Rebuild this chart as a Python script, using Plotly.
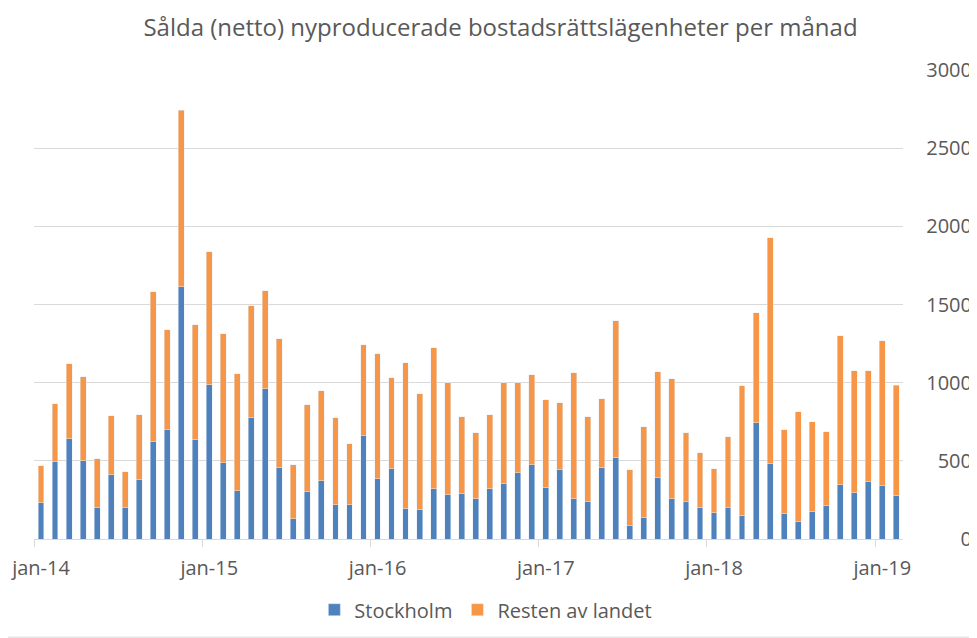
import plotly.graph_objects as go

months = [f"{m}-{y}" for y in ["14", "15", "16", "17", "18"] for m in
          ["jan", "feb", "mar", "apr", "maj", "jun", "jul", "aug", "sep", "okt", "nov", "dec"]] + ["jan-19", "feb-19"]

stockholm = [232, 494, 641, 500, 200, 411, 200, 379, 622, 699, 1614, 635,
             987, 488, 309, 776, 961, 456, 130, 302, 373, 220, 220, 660,
             385, 449, 193, 187, 320, 283, 290, 258, 320, 352, 425, 475,
             328, 443, 258, 239, 456, 520, 85, 136, 392, 258, 239, 200,
             168, 200, 149, 744, 482, 162, 111, 175, 213, 347, 296, 366,
             341, 277]

resten = [238, 371, 480, 538, 313, 377, 230, 416, 959, 640, 1130, 736,
          850, 825, 748, 716, 627, 825, 345, 557, 575, 556, 389, 583,
          801, 582, 934, 742, 904, 717, 492, 422, 475, 648, 575, 576,
          563, 429, 806, 543, 441, 876, 358, 582, 678, 767, 441, 352,
          282, 454, 831, 703, 1445, 537, 703, 575, 473, 953, 781, 711,
          928, 708]

tick_labels = ["jan-14", "jan-15", "jan-16", "jan-17", "jan-18", "jan-19"]
y_ticks = [0, 500, 1000, 1500, 2000, 2500, 3000]

x = list(range(len(months)))
tick_pos = [months.index(t) for t in tick_labels]

FONT = "Open Sans, Noto Sans, sans-serif"
TXT = "#595959"
GRID = "#d9d9d9"

fig = go.Figure()
fig.add_trace(go.Bar(x=x, y=stockholm, name="Stockholm", marker_color="#4f81bd",
                     customdata=months, hovertemplate="%{customdata}: %{y}<extra>Stockholm</extra>"))
fig.add_trace(go.Bar(x=x, y=resten, name="Resten av landet", marker_color="#f79646",
                     customdata=months, hovertemplate="%{customdata}: %{y}<extra>Resten av landet</extra>"))

# page is drawn with an 8px body margin; work in page pixels and offset
OFF = 8
PW, PH = 977, 638
W, H = PW - OFF, PH - OFF
plot_l, plot_r, plot_t, plot_b = 34.3, 974, 70.3, 539.3   # page px
L = plot_l - OFF
T = plot_t - OFF
R = W - (plot_r - OFF)
B = H - (plot_b - OFF)
pw = plot_r - plot_l
ph = plot_b - plot_t


def px(xp):
    return (xp - plot_l) / pw


def py(yp):
    return (plot_b - yp) / ph


fig.update_layout(
    width=W, height=H,
    barmode="stack", bargap=0.58,
    plot_bgcolor="white", paper_bgcolor="white",
    margin=dict(l=L, r=R, t=T, b=B, pad=0, autoexpand=False),
    font=dict(family=FONT, size=20, color=TXT),
    title=dict(text="Sålda (netto) nyproducerade bostadsrättslägenheter per månad",
               x=(500.5 - OFF) / W, xanchor="center", xref="container",
               y=1 - (28 - OFF) / H, yanchor="middle", yref="container",
               font=dict(size=24, color=TXT, family=FONT)),
    legend=dict(orientation="h", x=px(486), xanchor="center",
                y=py(610), yanchor="middle", traceorder="normal",
                font=dict(size=20, color=TXT), bgcolor="rgba(0,0,0,0)"),
    xaxis=dict(domain=[0, px(903.3)], range=[-0.5, len(months) - 0.5],
               automargin=False,
               tickmode="array", tickvals=tick_pos, ticktext=tick_labels,
               ticks="", showgrid=False, zeroline=False,
               showline=True, linecolor=GRID, linewidth=1,
               ticklabelstandoff=11,
               minor=dict(tickmode="array", tickvals=[p - 0.5 for p in tick_pos],
                          ticks="outside", ticklen=7, tickcolor=GRID, tickwidth=1,
                          showgrid=False)),
    yaxis=dict(anchor="free", position=1, side="left", range=[0, 3000],
               automargin=False,
               tickmode="array", tickvals=y_ticks,
               showgrid=True, gridcolor=GRID, gridwidth=1,
               zeroline=False, showline=False, ticks="", ticklabelstandoff=2),
    shapes=[
        dict(type="line", xref="paper", yref="paper",
             x0=px(976.5), x1=px(976.5), y0=py(637.5), y1=py(OFF),
             line=dict(color=GRID, width=1)),
        dict(type="line", xref="paper", yref="paper",
             x0=px(OFF), x1=px(976.5), y0=py(637.5), y1=py(637.5),
             line=dict(color=GRID, width=1)),
    ],
)

fig.write_html("out.html")
